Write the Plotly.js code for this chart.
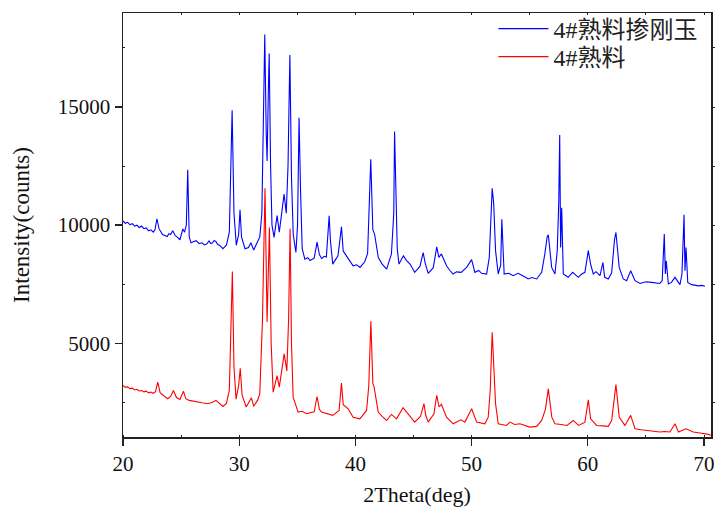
<!DOCTYPE html>
<html>
<head>
<meta charset="utf-8">
<script src="https://cdn.plot.ly/plotly-3.0.1.min.js"></script>
<style>html,body{margin:0;padding:0;background:#fff}#chart{width:718px;height:507px}</style>
</head>
<body>
<div id="chart"></div>
<script>
// 4#熟料掺刚玉 (blue)
var blueX = [20.0,20.2,20.4,20.6,20.8,21.0,21.2,21.4,21.6,21.8,22.0,22.2,22.4,22.6,22.75,22.92,23.1,23.25,23.4,23.6,23.8,23.95,24.1,24.28,24.5,24.7,24.9,25.15,25.3,25.45,25.57,25.7,25.85,26.05,26.3,26.55,26.8,27.0,27.2,27.4,27.55,27.7,27.85,28.0,28.15,28.3,28.45,28.6,28.75,28.9,29.15,29.39,29.55,29.75,29.95,30.07,30.2,30.5,30.8,31.0,31.25,31.6,31.77,31.95,32.08,32.2,32.32,32.4,32.5,32.58,32.7,32.82,33.0,33.26,33.45,33.7,33.86,34.05,34.2,34.36,34.5,34.65,34.88,35.02,35.15,35.28,35.42,35.65,35.9,36.1,36.3,36.45,36.7,36.9,37.1,37.3,37.5,37.74,37.85,38.05,38.3,38.5,38.8,38.95,39.2,39.5,39.8,40.1,40.4,40.8,41.05,41.32,41.5,41.65,41.97,42.3,42.69,43.1,43.3,43.37,43.48,43.6,43.75,44.13,44.4,44.7,45.1,45.55,45.83,46.0,46.26,46.7,47.0,47.18,47.4,47.84,48.1,48.4,48.7,49.1,49.57,50.0,50.28,50.6,50.86,51.29,51.52,51.77,51.9,52.06,52.29,52.5,52.6,52.7,52.8,53.2,53.58,54.0,54.3,54.6,54.87,55.2,55.6,56.03,56.3,56.5,56.6,56.89,57.17,57.37,57.5,57.58,57.66,57.75,57.89,58.3,58.7,59.18,59.47,59.75,60.04,60.24,60.47,60.7,61.05,61.3,61.45,61.76,62.05,62.3,62.42,62.7,63.05,63.34,63.69,64.06,64.5,65.0,65.5,65.9,66.2,66.4,66.58,66.67,66.75,66.93,67.2,67.5,67.93,68.1,68.28,68.36,68.45,68.6,68.94,69.2,69.5,69.8,70.08];
var blueY = [10180,10080,10120,10020,10060,9960,10000,9900,9960,9850,9880,9760,9800,9700,9800,10270,9850,9720,9600,9560,9520,9640,9600,9760,9550,9480,9380,9840,9700,10000,12340,9500,9250,9300,9340,9220,9250,9160,9200,9330,9220,9250,9350,9300,9180,9150,9060,9000,9080,9150,9700,14860,10500,9150,9600,10650,9500,9000,9050,9250,8950,9300,9500,10500,14500,18070,14000,12720,15500,17270,12500,10000,9480,10400,9700,10600,11310,10500,12500,17200,12000,9600,8840,10000,14550,11450,9000,8560,8620,8500,8560,8600,9280,8750,8580,8680,8650,10400,9340,8350,8550,8700,9930,8900,8720,8500,8280,8320,8210,8450,8800,12790,9800,9620,8630,8350,8140,8780,10500,13960,11030,9000,8350,8700,8500,8350,8000,8250,8840,8400,7960,8200,9080,8630,8780,8280,8100,7930,8020,8000,8210,8540,8000,8080,7960,7930,8630,11560,10910,8920,7930,8300,10250,9130,7930,7960,7860,7960,7890,7800,7720,7780,7720,8000,8780,9500,9590,8210,7930,8920,11000,13815,9050,10740,7930,7790,8000,7790,7930,8000,8920,8350,7930,8030,7860,8420,7790,7720,7980,9400,9690,8210,7720,7650,8070,7650,7530,7600,7575,7560,7530,7650,9620,7930,8490,7510,7575,7790,7480,7930,10435,8070,9050,7575,7480,7460,7430,7450,7410];

// 4#熟料 (red)
var redX = [20.0,20.2,20.4,20.6,20.8,21.0,21.2,21.4,21.6,21.8,22.0,22.2,22.4,22.6,22.8,22.99,23.2,23.5,23.85,24.1,24.34,24.6,24.9,25.2,25.4,25.7,26.0,26.4,26.8,27.3,27.7,28.0,28.3,28.6,28.9,29.15,29.41,29.55,29.73,29.95,30.09,30.25,30.6,31.05,31.25,31.6,31.77,32.0,32.22,32.4,32.6,32.75,32.92,33.26,33.45,33.87,34.1,34.25,34.38,34.5,34.64,35.07,35.4,35.8,36.1,36.45,36.7,36.9,37.08,37.5,38.05,38.6,38.8,38.95,39.38,39.8,40.1,40.38,40.96,41.15,41.33,41.5,41.61,41.96,42.3,42.69,43.1,43.54,44.1,44.7,45.1,45.6,45.9,46.05,46.26,46.75,47.0,47.2,47.4,47.84,48.41,49.08,49.42,50.0,50.43,51.14,51.43,51.6,51.77,51.86,52.06,52.29,53.0,53.3,53.7,54.16,54.6,55.0,55.6,56.03,56.35,56.6,56.9,57.17,57.7,58.2,58.75,59.2,59.75,60.04,60.24,60.76,61.3,61.76,62.05,62.3,62.42,62.7,63.19,63.69,64.06,64.6,65.06,65.6,66.2,66.6,67.07,67.5,67.8,68.45,69.08,69.65,70.0,70.37,70.6];
var redY = [3210,3130,3150,3080,3100,3020,3050,2980,3000,2940,2970,2900,2930,2880,2950,3350,2900,2800,2650,2750,3000,2700,2620,2970,2650,2580,2560,2510,2480,2440,2500,2580,2450,2320,2450,3000,8040,4000,2630,3200,3940,2800,2300,2690,2330,2600,2860,5960,11560,5900,9900,5000,2930,3630,3140,4550,3830,6000,9850,5000,2720,2085,2120,2015,2060,2100,2745,2200,2085,2015,1945,2150,3310,2400,2225,1870,1830,1800,2155,3200,5930,3300,3140,2085,1900,1730,1985,1800,2270,1900,1660,1900,2440,1950,1660,2000,2790,2300,2410,1870,1590,1760,1660,2225,1660,1590,1870,3000,5465,4550,2440,1590,1520,1660,1560,1590,1530,1450,1480,1730,2200,3070,1870,1590,1560,1520,1730,1520,1660,2605,1800,1520,1500,1480,1730,2900,3250,1870,1520,1945,1380,1340,1310,1280,1240,1260,1240,1590,1240,1380,1240,1200,1180,1140,1100];

var seriesNames = ['4#熟料掺刚玉', '4#熟料'];
var xTitle = '2Theta(deg)';
var yTitle = 'Intensity(counts)';
var xRange = [20, 70.6];
var yRange = [1030, 18980];

var serif = '"Liberation Serif", "Times New Roman", "Noto Sans CJK SC", serif';
var legendFont = {family: '"Liberation Serif", "Noto Sans CJK SC", serif', size: 24, color: '#222'};

var traces = [
  {x: blueX, y: blueY, type: 'scatter', mode: 'lines', name: seriesNames[0],
   line: {color: '#0000ff', width: 1.1}, legend: 'legend'},
  {x: redX, y: redY, type: 'scatter', mode: 'lines', name: seriesNames[1],
   line: {color: '#ff0000', width: 1.1}, legend: 'legend2'},
  {x: [], y: [], xaxis: 'x2', yaxis: 'y2', showlegend: false, hoverinfo: 'skip'}
];

var layout = {
  width: 718, height: 507,
  margin: {l: 123, r: 7, t: 12, b: 70},
  paper_bgcolor: '#ffffff', plot_bgcolor: '#ffffff',
  font: {family: serif, color: '#000', size: 21},
  showlegend: true,
  legend: {x: 0.63, y: 0.96, xanchor: 'left', yanchor: 'middle',
           bgcolor: 'rgba(0,0,0,0)', borderwidth: 0, itemwidth: 50,
           font: legendFont},
  legend2: {x: 0.63, y: 0.894, xanchor: 'left', yanchor: 'middle',
           bgcolor: 'rgba(0,0,0,0)', borderwidth: 0, itemwidth: 50,
           font: legendFont},
  xaxis: {range: xRange, showgrid: false, zeroline: false,
          showline: true, linecolor: '#222', linewidth: 1.5,
          ticks: 'outside', ticklen: 7, tickwidth: 1.3, tickcolor: '#222',
          dtick: 10, tick0: 0,
          minor: {ticks: 'inside', ticklen: 2, dtick: 5, tickcolor: '#222', tickwidth: 1},
          tickfont: {family: serif, size: 21, color: '#111'},
          title: {text: xTitle, font: {family: serif, size: 22, color: '#111'}, standoff: 14}},
  yaxis: {range: yRange, showgrid: false, zeroline: false,
          showline: true, linecolor: '#222', linewidth: 1.5,
          ticks: 'outside', ticklen: 7, tickwidth: 1.3, tickcolor: '#222',
          tickvals: [5000, 10000, 15000], ticktext: ['5000', '10000', '15000'],
          minor: {ticks: 'inside', ticklen: 2, tickvals: [2500, 7500, 12500, 17500], tickcolor: '#222', tickwidth: 1},
          tickfont: {family: serif, size: 21, color: '#111'},
          title: {text: yTitle, font: {family: serif, size: 23, color: '#111'}, standoff: 21}},
  xaxis2: {overlaying: 'x', side: 'top', anchor: 'y', range: xRange, showgrid: false, zeroline: false,
           showline: true, linecolor: '#222', linewidth: 1.5,
           ticks: 'inside', ticklen: 2, tickcolor: '#222', dtick: 5, tick0: 0,
           showticklabels: false},
  yaxis2: {overlaying: 'y', side: 'right', anchor: 'x', range: yRange, showgrid: false, zeroline: false,
           showline: true, linecolor: '#222', linewidth: 1.5,
           ticks: 'outside', ticklen: 2, tickcolor: '#222', dtick: 2500, tick0: 0,
           showticklabels: false}
};

Plotly.newPlot('chart', traces, layout, {staticPlot: true, displayModeBar: false});
</script>
</body>
</html>
